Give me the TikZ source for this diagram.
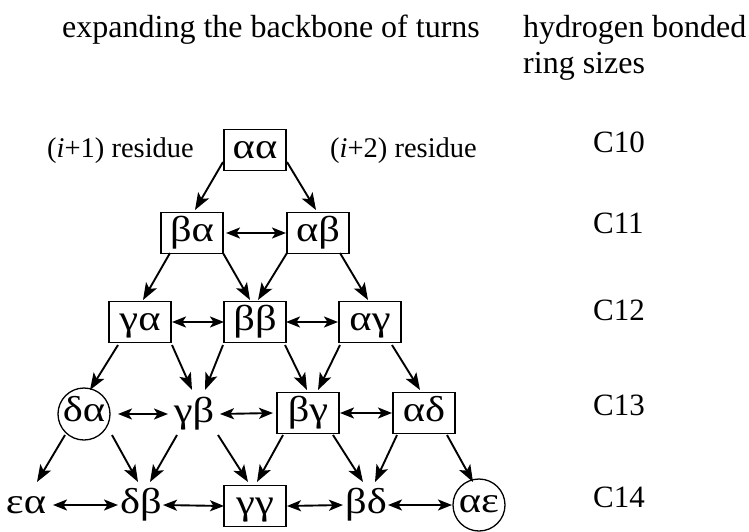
\documentclass[tikz,border=0pt]{standalone}
\usepackage{fontspec}
\setmainfont{Liberation Serif}
\newfontfamily\wide[FakeStretch=1.18]{Liberation Serif}
\usetikzlibrary{arrows.meta}
\tikzset{
  hlbl/.style={font=\fontsize{32}{36}\selectfont, inner sep=0pt, anchor=base west},
  lbl/.style={font=\fontsize{28.5}{34}\selectfont, inner sep=0pt, anchor=base west},
  rlbl/.style={font=\fontsize{31}{36}\selectfont, inner sep=0pt, anchor=base west},
  gk/.style={font=\wide\fontsize{36}{40}\selectfont, inner sep=0pt, text height=24pt, text depth=7pt},
  gbox/.style={gk, draw, line width=1.5pt, minimum width=62pt, minimum height=41pt},
  gcirc/.style={gk, draw, circle, line width=1.3pt, minimum size=52pt, text height=20pt, text depth=6pt},
  arr/.style={line width=1.9pt, -{Stealth[length=17pt,width=12.5pt,inset=4pt]}},
  darr/.style={line width=1.9pt, {Stealth[length=14pt,width=11pt,inset=3.5pt]}-{Stealth[length=14pt,width=11pt,inset=3.5pt]}}
}
\begin{document}
\begin{tikzpicture}[x=1pt,y=-1pt]
\useasboundingbox (0,0) rectangle (749,531);
% headers
\node[hlbl] (h1) at (62,37) {expanding the backbone of turns};
\node[hlbl] (h2) at (523,37) {hydrogen bonded};
\node[hlbl] (h3) at (523,73) {ring sizes};
\node[lbl] (r1) at (47,157) {(\textit{i}+1) residue};
\node[lbl] (r2) at (330,157) {(\textit{i}+2) residue};
% ring sizes
\node[rlbl] (c10) at (593,152) {C10};
\node[rlbl] (c11) at (593,233) {C11};
\node[rlbl] (c12) at (593,320) {C12};
\node[rlbl] (c13) at (593,415) {C13};
\node[rlbl] (c14) at (593,507) {C14};
% greek nodes
\node[gbox] (aa) at (255,150) {αα};
\node[gbox] (ba) at (192,233) {βα};
\node[gbox] (ab) at (318,233) {αβ};
\node[gbox] (ga) at (140,322) {γα};
\node[gbox] (bb) at (255,322) {ββ};
\node[gbox] (ag) at (370,322) {αγ};
\node[gcirc] (da) at (84,414) {δα};
\node[gk] (gb) at (194,414) {γβ};
\node[gbox] (bg) at (308,413) {βγ};
\node[gbox] (ad) at (424,413) {αδ};
\node[gk] (ea) at (26,505) {εα};
\node[gk] (db) at (141,505) {δβ};
\node[gbox] (gg) at (255,506) {γγ};
\node[gk] (bd) at (366,505) {βδ};
\node[gcirc] (ae) at (479,505) {αε};
% down arrows
\draw[arr] ([shift={(-32,12)}]aa.center) -- ([shift={(3,-23)}]ba.center);
\draw[arr] ([shift={(32,12)}]aa.center) -- ([shift={(-2,-23)}]ab.center);
\draw[arr] ([shift={(-22,20)}]ba.center) -- ([shift={(3,-22)}]ga.center);
\draw[arr] ([shift={(31,20)}]ba.center) -- ([shift={(-5,-22)}]bb.center);
\draw[arr] ([shift={(-31,20)}]ab.center) -- ([shift={(3,-22)}]bb.center);
\draw[arr] ([shift={(22,20)}]ab.center) -- ([shift={(-2,-22)}]ag.center);
\draw[arr] ([shift={(-22,23)}]ga.center) -- ([shift={(6,-24)}]da.center);
\draw[arr] ([shift={(32,23)}]ga.center) -- ([shift={(-2,-24)}]gb.center);
\draw[arr] ([shift={(-32,23)}]bb.center) -- ([shift={(11,-24)}]gb.center);
\draw[arr] ([shift={(30,23)}]bb.center) -- ([shift={(-1,-23)}]bg.center);
\draw[arr] ([shift={(-30,23)}]ag.center) -- ([shift={(10,-23)}]bg.center);
\draw[arr] ([shift={(22,23)}]ag.center) -- ([shift={(-4,-23)}]ad.center);
\draw[arr] ([shift={(-19,21)}]da.center) -- ([shift={(11,-23)}]ea.center);
\draw[arr] ([shift={(28,21)}]da.center) -- ([shift={(-3,-23)}]db.center);
\draw[arr] ([shift={(-17,21)}]gb.center) -- ([shift={(9,-23)}]db.center);
\draw[arr] ([shift={(24,21)}]gb.center) -- ([shift={(-7,-24)}]gg.center);
\draw[arr] ([shift={(-25,22)}]bg.center) -- ([shift={(2,-24)}]gg.center);
\draw[arr] ([shift={(25,22)}]bg.center) -- ([shift={(-3,-23)}]bd.center);
\draw[arr] ([shift={(-27,22)}]ad.center) -- ([shift={(9,-23)}]bd.center);
\draw[arr] ([shift={(23,22)}]ad.center) -- ([shift={(-6,-23)}]ae.center);
% horizontal double arrows
\draw[darr] ([xshift=34]ba.center) -- ([xshift=-32]ab.center);
\draw[darr] ([xshift=32]ga.center) -- ([xshift=-31]bb.center);
\draw[darr] ([xshift=31]bb.center) -- ([xshift=-32]ag.center);
\draw[darr] ([xshift=34]da.center) -- ([xshift=-26]gb.center);
\draw[darr] ([xshift=26]gb.center) -- ([xshift=-35]bg.center);
\draw[darr] ([xshift=32]bg.center) -- ([xshift=-32]ad.center);
\draw[darr] ([xshift=27]ea.center) -- ([xshift=-23]db.center);
\draw[darr] ([xshift=22]db.center) -- ([xshift=-31]gg.center);
\draw[darr] ([xshift=32]gg.center) -- ([xshift=-23]bd.center);
\draw[darr] ([xshift=22]bd.center) -- ([xshift=-27]ae.center);
\end{tikzpicture}
\end{document}
